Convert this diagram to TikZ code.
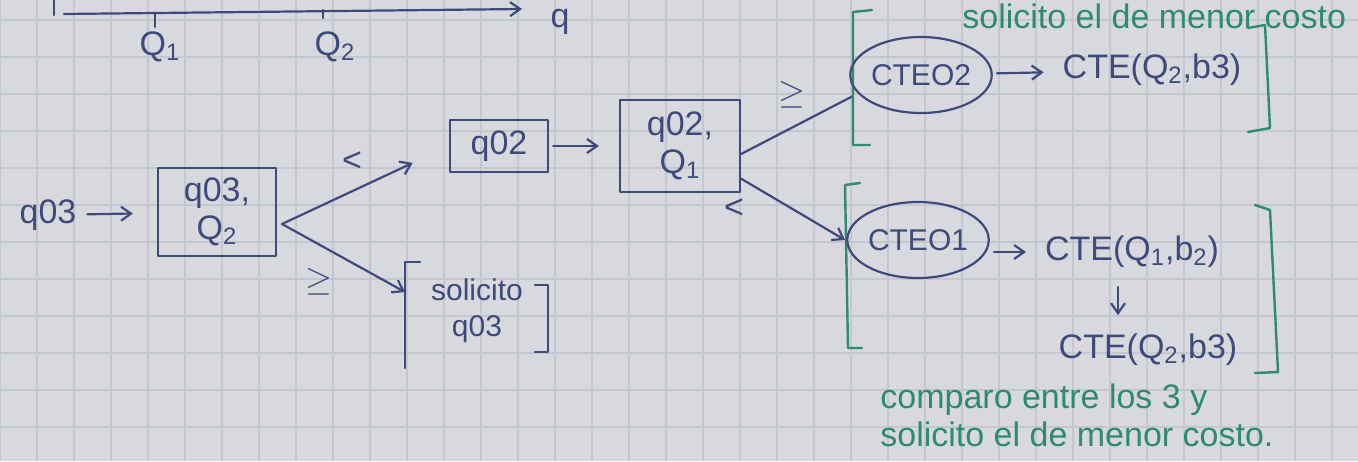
\documentclass[tikz,border=0pt]{standalone}
\usepackage{fontspec}
\setmainfont{Liberation Sans}
\usetikzlibrary{arrows.meta,shapes.geometric}
\definecolor{ink}{HTML}{3E4A7A}
\definecolor{grn}{HTML}{2E8B6E}
\definecolor{paper}{HTML}{D8D9DE}
\definecolor{gridc}{HTML}{C4C7CF}
\begin{document}
\begin{tikzpicture}[x=0.5pt,y=-0.5pt,
  inkline/.style={draw=ink, line width=1.1pt, line cap=round, line join=round},
  arr/.style={inkline, -{Straight Barb[length=5pt,width=7pt]}},
  bluetxt/.style={text=ink, font=\fontsize{17}{19}\selectfont, align=center},
  boxnode/.style={bluetxt, inkline, inner sep=3pt},
  ell/.style={bluetxt, font=\fontsize{15}{17}\selectfont, ellipse, inkline, minimum width=68pt, minimum height=38pt, inner sep=0pt},
  brk/.style={draw=ink, line width=1.1pt, line cap=round, line join=round},
  gbrk/.style={draw=grn, line width=1.2pt, line cap=round, line join=round},
  gtxt/.style={text=grn, font=\fontsize{17}{19}\selectfont, align=left, inner sep=0pt},
  lbl/.style={text=ink, font=\fontsize{17}{19}\selectfont}
]
\useasboundingbox (0,0) rectangle (1358,461);
\fill[paper] (0,0) rectangle (1358,461);
\foreach \gx in {0,37,...,1358} \draw[gridc, line width=0.6pt] (\gx,0) -- (\gx,461);
\foreach \gy in {20,57,...,461} \draw[gridc, line width=0.6pt] (0,\gy) -- (1358,\gy);

% axis
\coordinate (ax0) at (64,14);
\coordinate (ax1) at (522,9);
\draw[arr] (ax0) -- (ax1);
\draw[brk] (54,0) -- (54,15);
\coordinate (t1) at (155,13);
\coordinate (t2) at (323,10);
\draw[brk] (t1) -- ++(0,14);
\draw[brk] (t2) -- ++(0,8);
\node[bluetxt] (Q1) at (160,47) {Q\textsubscript{1}};
\node[bluetxt] (Q2) at (335,47) {Q\textsubscript{2}};
\node[bluetxt] (qax) at (560,22) {q};

% main chain
\node[bluetxt] (q03in) at (48,215) {q03};
\node[boxnode, minimum width=59pt, minimum height=44pt] (b1) at (217,212) {q03,\\Q\textsubscript{2}};
\draw[arr, shorten <=2pt, shorten >=12pt] (q03in) -- (b1);

\node[boxnode, minimum width=49pt, minimum height=26pt] (q02) at (499,146) {q02};
\coordinate (b1e) at (282,224);
\draw[arr, shorten >=20pt] (b1e) -- (q02.west) node[lbl, pos=0.42, above=6pt] {<};

\node[bluetxt, font=\fontsize{15}{18}\selectfont, inner sep=0pt] (s1) at (477,311) {solicito\\q03};
\draw[brk] (420,262) -- (405,262) -- (405,368);
\draw[brk] (535,285) -- (548,285) -- (548,352) -- (535,352);
\coordinate (s1w) at (405,292);
\draw[arr] (b1e) -- (s1w) node[lbl, pos=0.3, below=8pt] {$\geq$};

\node[boxnode, minimum width=60pt, minimum height=46pt] (b2) at (680,146) {q02,\\Q\textsubscript{1}};
\draw[arr, shorten <=2pt, shorten >=10pt] (q02) -- (b2);

% top group
\coordinate (g1L) at (853,96);
\draw[inkline] ([yshift=-4pt]b2.east) -- (g1L) node[lbl, pos=0.45, above=6pt] {$\geq$};
\draw[gbrk] (872,10) -- (853,12) -- (853,145) -- (870,145);
\draw[gbrk] (1248,28) -- (1265,25) -- (1270,128) -- (1248,132);
\node[ell] (e2) at (921,75) {CTEO2};
\node[bluetxt] (c2) at (1152,70) {CTE(Q\textsubscript{2},b3)};
\draw[arr, shorten <=2pt, shorten >=6pt] (e2) -- (c2);
\node[gtxt, anchor=west] (gt1) at (962,16) {solicito el de menor costo};

% bottom group
\coordinate (g2L) at (845,240);
\coordinate (b2se) at (740,178);
\draw[arr] (b2se) -- (g2L) node[lbl, pos=0.15, below left=2pt] {<};
\draw[gbrk] (860,183) -- (845,185) -- (848,348) -- (862,348);
\draw[gbrk] (1255,205) -- (1270,210) -- (1278,372) -- (1255,373);
\node[ell] (e1) at (918,240) {CTEO1};
\node[bluetxt] (c1) at (1132,252) {CTE(Q\textsubscript{1},b\textsubscript{2})};
\draw[arr, shorten <=2pt, shorten >=6pt] (e1.east |- c1) -- (c1);
\node[bluetxt] (c3) at (1148,350) {CTE(Q\textsubscript{2},b3)};
\draw[arr, shorten <=6pt, shorten >=6pt] (c1.south -| 1118,0) -- (c3.north -| 1118,0);
\node[gtxt, anchor=west] (gt2) at (880,400) {comparo entre los 3 y};
\node[gtxt, anchor=west] (gt3) at (880,434) {solicito el de menor costo.};
\end{tikzpicture}
\end{document}
